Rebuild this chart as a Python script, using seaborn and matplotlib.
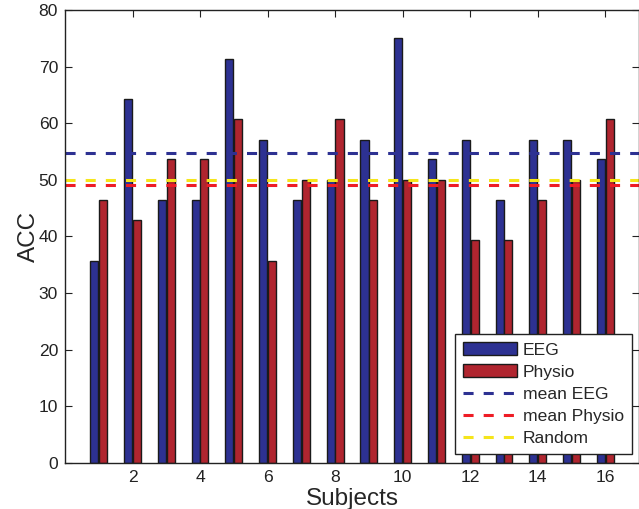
import numpy as np
import pandas as pd
import matplotlib
matplotlib.use("Agg")
import matplotlib.pyplot as plt
import seaborn as sns

# accuracy per subject (percent)
subjects = list(range(1, 17))
eeg = [35.7, 64.3, 46.4, 46.4, 71.4, 57.1, 46.4, 50.0,
       57.1, 75.0, 53.6, 57.1, 46.4, 57.1, 57.1, 53.6]
physio = [46.4, 42.9, 53.6, 53.6, 60.7, 35.7, 50.0, 60.7,
          46.4, 50.0, 50.0, 39.3, 39.3, 46.4, 50.0, 60.7]
random_level = 50.0

blue = "#2D3192"
red = "#B0252F"

df = pd.DataFrame({
    "Subject": subjects * 2,
    "ACC": eeg + physio,
    "Type": ["EEG"] * len(eeg) + ["Physio"] * len(physio),
})

sns.set_style("ticks")
plt.rcParams["font.family"] = ["Liberation Sans", "DejaVu Sans"]

fig = plt.figure(figsize=(6.39, 5.09), dpi=100)
ax = fig.add_axes([65 / 639, 46 / 509, 574 / 639, 453 / 509])

sns.barplot(data=df, x="Subject", y="ACC", hue="Type", native_scale=True,
            palette=[blue, red], width=0.52, gap=0.08, errorbar=None,
            edgecolor="#1a1a1a", linewidth=1.0, saturation=1, ax=ax)

dash = (0, (3.3, 3.3))
ax.axhline(np.mean(eeg), color="#2D3192", lw=2.2, ls=dash, label="mean EEG")
ax.axhline(np.mean(physio), color="#EE1C25", lw=2.2, ls=dash, label="mean Physio")
ax.axhline(random_level, color="#F5E51B", lw=2.2, ls=dash, label="Random")

ax.set_xlim(0, 17)
ax.set_ylim(0, 80)
ax.set_xticks(range(2, 17, 2))
ax.set_yticks(range(0, 81, 10))
ax.tick_params(direction="in", length=5, width=0.8, top=True, right=True,
               labelsize=12.6, colors="#222222", pad=5)
for s in ax.spines.values():
    s.set_visible(True)
    s.set_linewidth(1.0)
    s.set_color("#222222")

ax.set_xlabel("Subjects", fontsize=17.5, labelpad=2)
ax.set_ylabel("ACC", fontsize=17.5, labelpad=-1)

handles, labels = ax.get_legend_handles_labels()
leg = ax.legend(handles, labels, loc="lower right", bbox_to_anchor=(0.987, 0.02),
                fontsize=12.6, frameon=True, fancybox=False, framealpha=1,
                edgecolor="#222222", handlelength=3.1, handleheight=0.8,
                handletextpad=0.3, labelspacing=0.36, borderpad=0.45,
                borderaxespad=0)
leg.get_frame().set_linewidth(1.0)

fig.savefig("out.png", dpi=100)
